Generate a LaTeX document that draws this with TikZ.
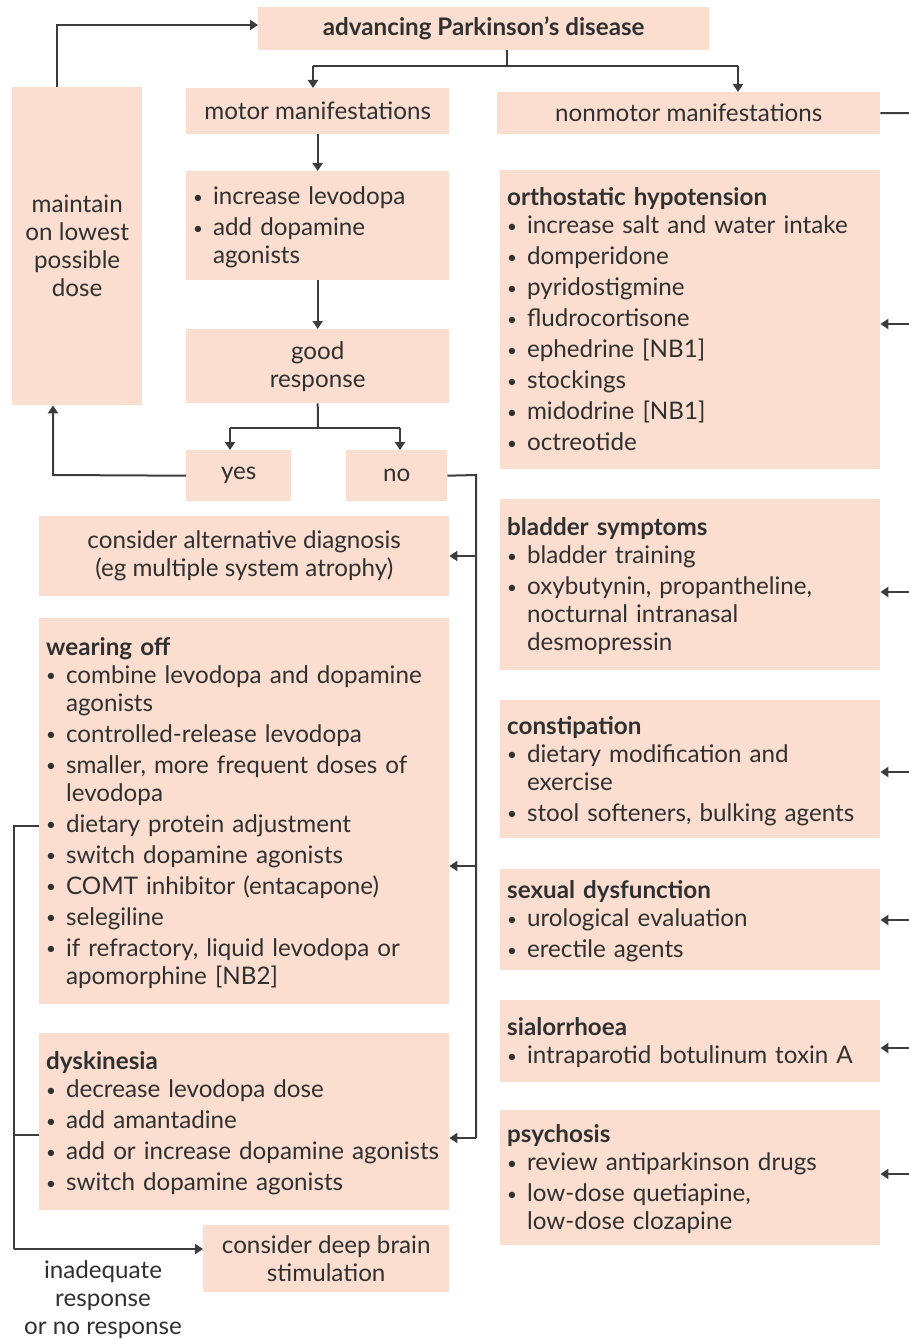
\documentclass[tikz,border=0pt]{standalone}
\usepackage{fontspec}
\setmainfont{Lato}
\usetikzlibrary{arrows.meta}
\definecolor{boxfill}{RGB}{251,222,208}
\definecolor{txt}{RGB}{48,48,48}
\definecolor{lncol}{RGB}{60,60,60}
\newcommand{\hd}[1]{\multicolumn{2}{@{}l@{}}{\bfseries #1}\\}
\newcommand{\bul}{\raisebox{1.5pt}{\fontsize{17}{17}\selectfont\textbullet}}
\newcommand{\lst}[1]{\raisebox{-3pt}[\height][\depth]{\begin{tabular}{@{}l@{\hspace{10pt}}l@{}}#1\end{tabular}}}
\tikzset{
  box/.style={fill=boxfill, draw=none, anchor=north west, inner xsep=7pt, inner ysep=0pt, text=txt},
  cbox/.style={box, align=center},
  ln/.style={draw=lncol, line width=2pt},
  arr/.style={ln, -{Triangle[length=8pt,width=10pt]}},
}
\begin{document}
\begin{tikzpicture}[x=1pt,y=-1pt, font=\fontsize{24.2}{28}\selectfont]
\useasboundingbox (0,0) rectangle (909,1340);
% top row
\node[cbox, minimum width=451, minimum height=43] (top) at (258,7) {\bfseries advancing Parkinson's disease};
\node[cbox, minimum width=263, minimum height=46] (motor) at (186,88) {motor manifestations};
\node[cbox, minimum width=383, minimum height=42] (nonmotor) at (497,92) {nonmotor manifestations};
\node[cbox, minimum width=130, minimum height=318] (maintain) at (12,87) {maintain\\on lowest\\possible\\dose};
% motor branch
\node[box, minimum width=263, minimum height=109, text width=249, align=left] (incr) at (186,171)
 {\lst{
 \bul & increase levodopa\\[3pt]
 \bul & add dopamine\\
 & agonists}};
\node[cbox, minimum width=263, minimum height=74] (good) at (186,329) {good\\response};
\node[cbox, minimum width=105, minimum height=51] (yes) at (186,450) {yes};
\node[cbox, minimum width=101, minimum height=51] (no) at (346,450) {no};
\node[cbox, minimum width=410, minimum height=80] (alt) at (39,516) {consider alternative diagnosis\\(eg multiple system atrophy)};
\node[box, minimum width=410, minimum height=386, text width=396, align=left] (wear) at (39,618)
 {\lst{
 \hd{wearing off}
 \bul & combine levodopa and dopamine\\
 & agonists\\[3pt]
 \bul & controlled-release levodopa\\[3pt]
 \bul & smaller, more frequent doses of\\
 & levodopa\\[3pt]
 \bul & dietary protein adjustment\\[3pt]
 \bul & switch dopamine agonists\\[3pt]
 \bul & COMT inhibitor (entacapone)\\[3pt]
 \bul & selegiline\\[3pt]
 \bul & if refractory, liquid levodopa or\\
 & apomorphine [NB2]}};
\node[box, minimum width=410, minimum height=177, text width=396, align=left] (dysk) at (39,1033)
 {\lst{
 \hd{dyskinesia}
 \bul & decrease levodopa dose\\[3pt]
 \bul & add amantadine\\[3pt]
 \bul & add or increase dopamine agonists\\[3pt]
 \bul & switch dopamine agonists}};
\node[cbox, minimum width=246, minimum height=67] (dbs) at (203,1225) {consider deep brain\\stimulation};
\node[align=center, text=txt, inner sep=0pt] (inadeq) at (103,1300) {inadequate\\response\\or no response};
% nonmotor branch
\node[box, minimum width=380, minimum height=299, text width=366, align=left] (oh) at (500,170)
 {\lst{
 \hd{orthostatic hypotension}
 \bul & increase salt and water intake\\[3pt]
 \bul & domperidone\\[3pt]
 \bul & pyridostigmine\\[3pt]
 \bul & fludrocortisone\\[3pt]
 \bul & ephedrine [NB1]\\[3pt]
 \bul & stockings\\[3pt]
 \bul & midodrine [NB1]\\[3pt]
 \bul & octreotide}};
\node[box, minimum width=380, minimum height=171, text width=366, align=left] (blad) at (500,499)
 {\lst{
 \hd{bladder symptoms}
 \bul & bladder training\\[3pt]
 \bul & oxybutynin, propantheline,\\
 & nocturnal intranasal\\
 & desmopressin}};
\node[box, minimum width=380, minimum height=138, text width=366, align=left] (cons) at (500,700)
 {\lst{
 \hd{constipation}
 \bul & dietary modification and\\
 & exercise\\[3pt]
 \bul & stool softeners, bulking agents}};
\node[box, minimum width=380, minimum height=101, text width=366, align=left] (sex) at (500,869)
 {\lst{
 \hd{sexual dysfunction}
 \bul & urological evaluation\\[3pt]
 \bul & erectile agents}};
\node[box, minimum width=380, minimum height=82, text width=366, align=left] (sial) at (500,1000)
 {\lst{
 \hd{sialorrhoea}
 \bul & intraparotid botulinum toxin A}};
\node[box, minimum width=380, minimum height=135, text width=366, align=left] (psy) at (500,1110)
 {\lst{
 \hd{psychosis}
 \bul & review antiparkinson drugs\\[3pt]
 \bul & low-dose quetiapine,\\
 & low-dose clozapine}};
% coordinates
\coordinate (t1) at (507,66);
\coordinate (a1) at (313,66);
\coordinate (a2) at (738,66);
\coordinate (b0) at (318,428);
\coordinate (b1) at (230,428);
\coordinate (b2) at (400,428);
\coordinate (m1) at (53,475);
\coordinate (m2) at (57,25);
\coordinate (n1) at (476,475);
\coordinate (n3) at (476,556);
\coordinate (n4) at (476,866);
\coordinate (n2) at (476,1138);
\coordinate (l1) at (14,826);
\coordinate (l2) at (14,1135);
\coordinate (l3) at (14,1249);
\coordinate (r0) at (909,113);
\coordinate (r1) at (909,324);
\coordinate (r2) at (909,592);
\coordinate (r3) at (909,772);
\coordinate (r4) at (909,920);
\coordinate (r5) at (909,1048);
\coordinate (r6) at (909,1174);
% connectors
\draw[ln] (top.south -| t1) -- (t1);
\draw[ln] (a1) -- (a2);
\draw[arr] (a1) -- (a1 |- motor.north);
\draw[arr] (a2) -- (a2 |- nonmotor.north);
\draw[arr] (motor.south) -- (incr.north);
\draw[arr] (incr.south) -- (good.north);
\draw[ln] (good.south) -- (b0);
\draw[ln] (b1) -- (b2);
\draw[arr] (b1) -- (b1 |- yes.north);
\draw[arr] (b2) -- (b2 |- no.north);
\draw[arr] (yes.west) -- (m1) -- (m1 |- maintain.south);
\draw[arr] (m2 |- maintain.north) -- (m2) -- (m2 -| top.west);
\draw[ln] (no.east) -- (n1) -- (n2);
\draw[arr] (n3) -- (n3 -| alt.east);
\draw[arr] (n4) -- (n4 -| wear.east);
\draw[arr] (n2) -- (n2 -| dysk.east);
\draw[ln] (l1 -| wear.west) -- (l1) -- (l3);
\draw[ln] (l2 -| dysk.west) -- (l2);
\draw[arr] (l3) -- (l3 -| dbs.west);
\draw[ln] (nonmotor.east) -- (r0);
\draw[arr] (r1) -- (r1 -| oh.east);
\draw[arr] (r2) -- (r2 -| blad.east);
\draw[arr] (r3) -- (r3 -| cons.east);
\draw[arr] (r4) -- (r4 -| sex.east);
\draw[arr] (r5) -- (r5 -| sial.east);
\draw[arr] (r6) -- (r6 -| psy.east);
\end{tikzpicture}
\end{document}
